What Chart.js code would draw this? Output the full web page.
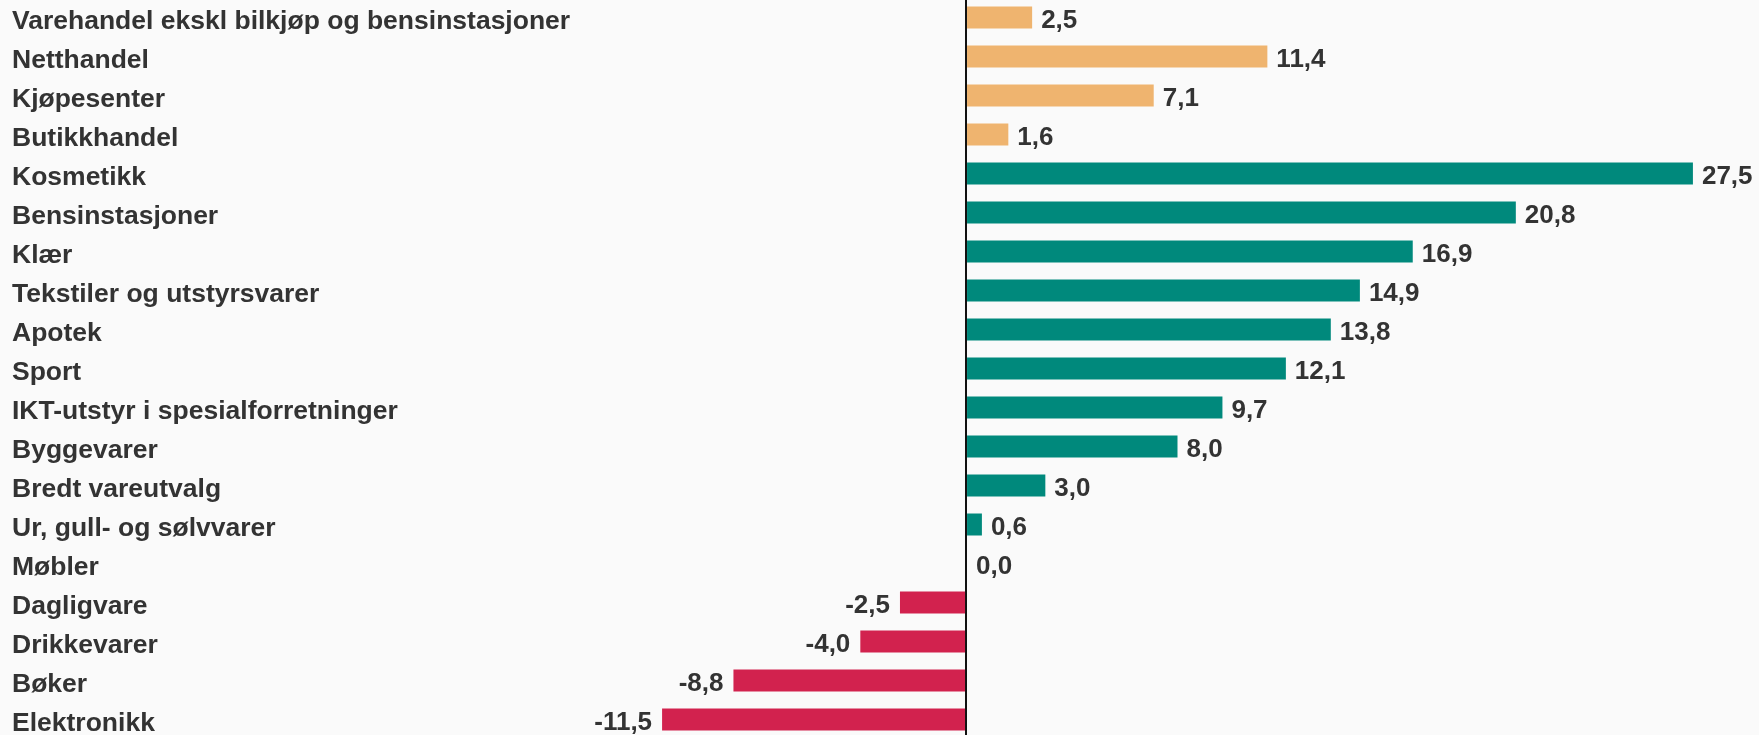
<!DOCTYPE html>
<html lang="no">
<head>
<meta charset="utf-8">
<title>Vekst per bransje</title>
<script src="https://cdn.jsdelivr.net/npm/chart.js@4.4.1/dist/chart.umd.min.js"></script>
<style>
  html, body { margin: 0; padding: 0; background: #fafafa; overflow: hidden; }
  #wrap { position: absolute; left: 0; top: -2px; width: 1759px; height: 741px; }
</style>
</head>
<body>
<div id="wrap"><canvas id="chart"></canvas></div>
<script>
// ===== Data =====
const categories = [
  'Varehandel ekskl bilkjøp og bensinstasjoner',
  'Netthandel',
  'Kjøpesenter',
  'Butikkhandel',
  'Kosmetikk',
  'Bensinstasjoner',
  'Klær',
  'Tekstiler og utstyrsvarer',
  'Apotek',
  'Sport',
  'IKT-utstyr i spesialforretninger',
  'Byggevarer',
  'Bredt vareutvalg',
  'Ur, gull- og sølvvarer',
  'Møbler',
  'Dagligvare',
  'Drikkevarer',
  'Bøker',
  'Elektronikk',
];
const values = [2.5, 11.4, 7.1, 1.6, 27.5, 20.8, 16.9, 14.9, 13.8, 12.1, 9.7, 8.0, 3.0, 0.6, 0.0, -2.5, -4.0, -8.8, -11.5];
// 'total' = aggregate rows at the top, 'branch' = single industries
const kinds = ['total', 'total', 'total', 'total',
  'branch', 'branch', 'branch', 'branch', 'branch', 'branch', 'branch', 'branch',
  'branch', 'branch', 'branch', 'branch', 'branch', 'branch', 'branch'];

// ===== Style =====
const FONT   = "'Liberation Sans', Arial, sans-serif";
const TEXT   = '#333333';
const ORANGE = '#efb46f';
const TEAL   = '#00897c';
const RED    = '#d2224e';

const barColor = (v, i) => kinds[i] === 'total' ? ORANGE : (v < 0 ? RED : TEAL);
const fmt = v => v.toFixed(1).replace('.', ',');

// value labels at bar ends
const valueLabels = {
  id: 'valueLabels',
  afterDatasetsDraw(chart) {
    const { ctx } = chart;
    const meta = chart.getDatasetMeta(0);
    ctx.save();
    ctx.font = `bold 26px ${FONT}`;
    ctx.fillStyle = TEXT;
    ctx.textBaseline = 'middle';
    meta.data.forEach((bar, i) => {
      const v = values[i];
      if (v < 0) {
        ctx.textAlign = 'right';
        ctx.fillText(fmt(v), bar.x - 10, bar.y + 3);
      } else {
        ctx.textAlign = 'left';
        ctx.fillText(fmt(v), bar.x + (v === 0 ? 10 : 9), bar.y + 3);
      }
    });
    ctx.restore();
  }
};

new Chart(document.getElementById('chart'), {
  type: 'bar',
  data: {
    labels: categories,
    datasets: [{
      data: values,
      backgroundColor: values.map(barColor),
      borderWidth: 0,
      categoryPercentage: 1,
      barPercentage: 0.564,
    }],
  },
  options: {
    indexAxis: 'y',
    responsive: true,
    maintainAspectRatio: false,
    animation: false,
    devicePixelRatio: 1,
    layout: { padding: { left: 12, right: 0, top: 0, bottom: 0 } },
    plugins: {
      legend: { display: false },
      tooltip: { enabled: false },
    },
    scales: {
      x: {
        min: -14,
        max: 30,
        ticks: { display: false, stepSize: 2 },
        border: { display: false },
        grid: {
          drawTicks: false,
          color: c => c.tick && c.tick.value === 0 ? '#111111' : 'transparent',
          lineWidth: 2,
        },
        afterFit: s => { s.height = 0; s.paddingLeft = 0; s.paddingRight = 0; },
      },
      y: {
        border: { display: false },
        grid: { display: false, drawTicks: false },
        ticks: {
          crossAlign: 'far',
          color: TEXT,
          labelOffset: 4,
          font: { family: FONT, size: 26.5, weight: 'bold' },
          autoSkip: false,
        },
        afterFit: s => { s.width = 584; s.paddingTop = 0; s.paddingBottom = 0; },
      },
    },
  },
  plugins: [valueLabels],
});
</script>
</body>
</html>
